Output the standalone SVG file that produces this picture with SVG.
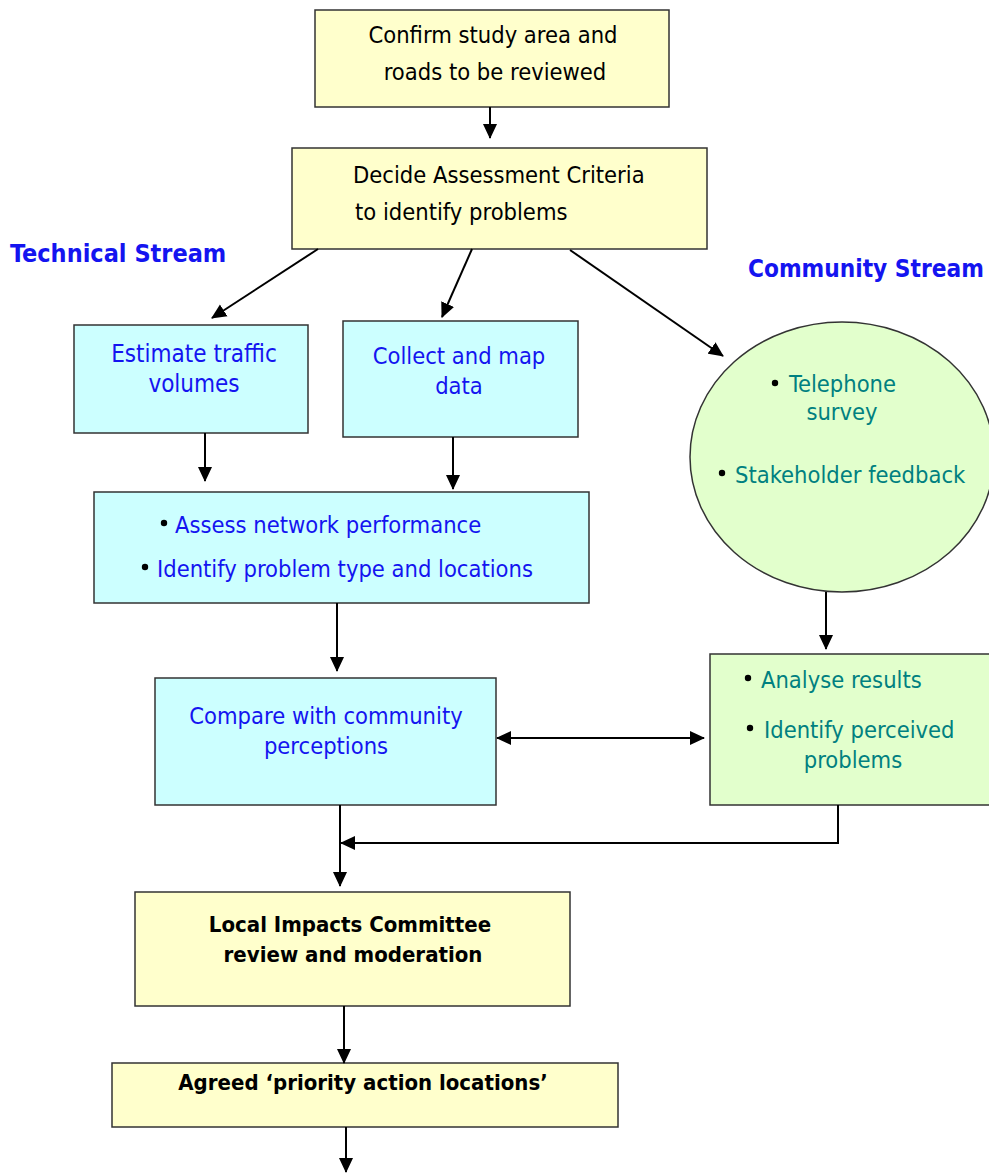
<svg xmlns="http://www.w3.org/2000/svg" width="989" height="1173" viewBox="0 0 989 1173">
<style>
.box{stroke:#333;stroke-width:1.5}
.y{fill:#FFFFCC}.c{fill:#CCFFFF}.g{fill:#E2FFCC}
text{font-family:"DejaVu Sans Condensed","DejaVu Sans",sans-serif;font-stretch:condensed;font-size:23.5px}
.k{fill:#000}.b{fill:#1414F0}.t{fill:#008080}
.bold{font-weight:bold;font-size:22px}
.lbl{font-weight:bold;font-size:24.2px}
.m{text-anchor:middle}
.ln{stroke:#000;stroke-width:2;fill:none}
</style>
<defs>
<marker id="ah" markerWidth="15" markerHeight="15" refX="14" refY="7.5" orient="auto" markerUnits="userSpaceOnUse" viewBox="0 0 15 15"><path d="M0,0.5 L15,7.5 L0,14.5 z" fill="#000"/></marker>
<marker id="as" markerWidth="15" markerHeight="15" refX="1" refY="7.5" orient="auto" markerUnits="userSpaceOnUse" viewBox="0 0 15 15"><path d="M15,0.5 L0,7.5 L15,14.5 z" fill="#000"/></marker>
</defs>
<g id="label-technical"><text x="10" y="262" class="b lbl" style="font-size:25px">Technical Stream</text></g>
<g id="label-community"><text x="748" y="277" class="b lbl">Community Stream</text></g>
<g id="n1"><rect x="315" y="10" width="354" height="97" class="box y"/>
<text x="493" y="43" class="k m">Confirm study area and</text><text x="495" y="80" class="k m">roads to be reviewed</text></g>
<g id="n2"><rect x="292" y="148" width="415" height="101" class="box y"/>
<text x="353" y="183" class="k">Decide Assessment Criteria</text><text x="355" y="220" class="k">to identify problems</text></g>
<g id="n3"><rect x="74" y="325" width="234" height="108" class="box c"/>
<text x="194" y="362" class="b m" style="font-size:24px">Estimate traffic</text><text x="194" y="392" class="b m" style="font-size:24px">volumes</text></g>
<g id="n4"><rect x="343" y="321" width="235" height="116" class="box c"/>
<text x="459" y="364" class="b m">Collect and map</text><text x="459" y="394" class="b m">data</text></g>
<g id="n5"><ellipse cx="842" cy="457" rx="152" ry="135" class="box g"/>
<circle cx="775" cy="383" r="3.2"/><text x="789" y="392" class="t">Telephone</text><text x="842" y="420" class="t m">survey</text>
<circle cx="722" cy="473" r="3.2"/><text x="735" y="483" class="t">Stakeholder feedback</text></g>
<g id="n6"><rect x="94" y="492" width="495" height="111" class="box c"/>
<circle cx="164" cy="523" r="3.2"/><text x="175" y="533" class="b">Assess network performance</text>
<circle cx="145" cy="567" r="3.2"/><text x="157" y="577" class="b">Identify problem type and locations</text></g>
<g id="n7"><rect x="155" y="678" width="341" height="127" class="box c"/>
<text x="326" y="724" class="b m">Compare with community</text><text x="326" y="754" class="b m">perceptions</text></g>
<g id="n8"><rect x="710" y="654" width="290" height="151" class="box g"/>
<circle cx="748" cy="678" r="3.2"/><text x="761" y="688" class="t">Analyse results</text>
<circle cx="750" cy="728" r="3.2"/><text x="764" y="738" class="t">Identify perceived</text><text x="853" y="768" class="t m">problems</text></g>
<g id="n9"><rect x="135" y="892" width="435" height="114" class="box y"/>
<text x="350" y="932" class="k m bold">Local Impacts Committee</text><text x="353" y="962" class="k m bold">review and moderation</text></g>
<g id="n10"><rect x="112" y="1063" width="506" height="64" class="box y"/>
<text x="363" y="1090" class="k m bold">Agreed ‘priority action locations’</text></g>
<g id="connectors">
<path d="M490,107 V138" class="ln" marker-end="url(#ah)"/>
<path d="M318,249 L212,318" class="ln" marker-end="url(#ah)"/>
<path d="M472,249 L442,317" class="ln" marker-end="url(#ah)"/>
<path d="M570,250 L723,356" class="ln" marker-end="url(#ah)"/>
<path d="M205,433 V481" class="ln" marker-end="url(#ah)"/>
<path d="M453,437 V489" class="ln" marker-end="url(#ah)"/>
<path d="M826,592 V649" class="ln" marker-end="url(#ah)"/>
<path d="M337,603 V671" class="ln" marker-end="url(#ah)"/>
<path d="M497,738 H704" class="ln" marker-start="url(#as)" marker-end="url(#ah)"/>
<path d="M838,805 V843 H341" class="ln" marker-end="url(#ah)"/>
<path d="M340,805 V886" class="ln" marker-end="url(#ah)"/>
<path d="M344,1006 V1063" class="ln" marker-end="url(#ah)"/>
<path d="M346,1127 V1172" class="ln" marker-end="url(#ah)"/>
</g>
</svg>
